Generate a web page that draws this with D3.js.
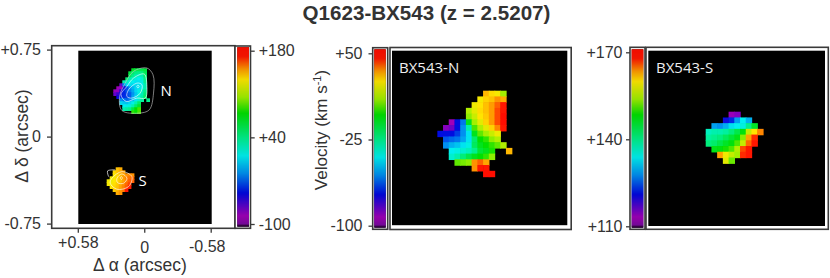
<!DOCTYPE html>
<html><head><meta charset="utf-8">
<script src="https://cdn.jsdelivr.net/npm/d3@7"></script>
<style>html,body{margin:0;padding:0;background:#fff}svg{display:block}text{font-family:"Liberation Sans",Arial,sans-serif;fill:#333}</style>
</head><body><div id="c"></div>
<script>
const _ = null;
const titleText = "Q1623-BX543 (z = 2.5207)";
// velocity ranges (km/s) and colour-bar tick labels
const leftRange = [-100, 180], northRange = [-100, 50], southRange = [110, 170];
const leftBarTicks = [180, 40, -100], northBarTicks = [50, -25, -100], southBarTicks = [170, 140, 110];
const raTicks = [0.58, 0, -0.58], decTicks = [0.75, 0, -0.75];
const northVelocity = [
[_,_,_,_,_,_,_,_,30,26,23,10,_],
[_,_,_,_,_,_,_,23,27,29,34,31,_],
[_,_,_,_,_,_,22,25,29,33,38,44,_],
[_,_,_,_,_,12,20,26,29,33,40,48,_],
[_,_,_,_,_,8,16,25,28,33,40,49,_],
[_,_,-91,-71,-58,-8,10,20,27,33,40,49,_],
[_,-88,-85,-72,-55,-30,2,12,20,27,35,46,_],
[-72,-72,-71,-65,-55,-42,-8,4,10,16,22,_,_],
[_,-62,-60,-58,-52,-42,-20,-4,0,8,12,_,_],
[_,-55,-50,-47,-42,-38,-18,-8,-4,0,4,12,_],
[_,_,-40,-38,-35,-32,-25,-12,-8,-2,_,_,30],
[_,_,-35,-30,-22,-15,-8,-4,0,8,_,_,_],
[_,_,_,4,6,8,34,38,32,_,_,_,_],
[_,_,_,_,_,_,34,48,48,_,_,_,_],
[_,_,_,_,_,_,_,_,50,50,_,_,_]];
const southVelocity = [
[_,_,_,_,114,115,_,_,_,_],
[_,_,_,121,123,129,134,130,_,_],
[_,129,128,130,133,134,135,140,146,_],
[137,138,138,139,141,144,148,156,160,164],
[139,140,141,143,145,147,153,163,167,_],
[141,142,144,146,148,151,156,165,168,_],
[_,147,148,149,151,155,166,168,_,_],
[_,_,163,159,156,154,167,168,_,_],
[_,_,_,158,152,_,_,_,_,_]];
const leftNorth = [
[_,_,_,_,_,_,70,62,58,58,62,_],
[_,_,_,_,_,62,50,42,40,42,55,_],
[_,_,_,_,_,55,40,30,25,30,48,_],
[_,_,_,_,50,32,25,18,12,22,42,_],
[_,_,_,30,25,18,12,8,8,15,38,_],
[_,_,-70,-20,5,8,5,5,8,12,30,_],
[_,-85,-83,-50,-30,-15,-5,5,8,15,30,_],
[-80,-80,-55,-40,-30,-20,-10,5,15,25,40,_],
[-70,-60,-46,-40,-35,-28,-15,0,15,28,45,_],
[_,-50,-40,-38,-35,-28,-10,5,20,32,50,_],
[_,_,-15,-20,-25,-20,-5,10,22,35,_,40],
[_,_,5,0,-2,5,15,30,50,_,_,_],
[_,_,_,12,15,18,30,50,65,_,_,_],
[_,_,_,30,35,40,60,80,90,_,_,_],
[_,_,_,_,_,_,85,80,90,_,_,_]];
const leftSouth = [
[_,_,_,140,145,_,_,_,_,_],
[_,_,135,140,145,148,_,_,_,_],
[_,_,132,136,142,146,150,152,150,_],
[_,130,130,136,142,148,152,155,156,_],
[128,128,132,136,140,146,152,158,158,_],
[130,130,134,138,144,150,156,162,_,_],
[_,132,136,140,146,152,158,168,_,_],
[_,_,138,142,148,154,170,_,_,_],
[_,_,_,145,150,_,_,_,_,_]];
// white flux contours, [dRA, dDec] arcsec
const contourNorth = [
 [[.093,.563],[-.023,.591],[-.076,.534],[-.081,.375],[-.044,.231],[.049,.202],[.195,.225],[.215,.346],[.166,.461]],
 [[.151,.433],[.093,.505],[0,.539],[-.023,.433],[-.009,.332],[.064,.332],[.157,.303],[.203,.361]],
 [[.137,.404],[.064,.461],[.02,.447],[.035,.375],[.108,.332],[.151,.346]],
 [[.055,.445],[.045,.43],[.055,.42],[.065,.43]]];
const contourSouth = [
 [[.282,-.359],[.195,-.302],[.108,-.345],[.137,-.431],[.238,-.454],[.297,-.402]],
 [[.238,-.359],[.195,-.322],[.151,-.359],[.18,-.402],[.233,-.397]],
 [[.21,-.355],[.2,-.345],[.19,-.355],[.2,-.37]]];
const contourOpen = [[.311,-.345],[.32,-.296],[.253,-.287]];

const svg = d3.select("#c").append("svg").attr("width",830).attr("height",278);
const defs=svg.append("defs");
[["soft",0.45],["softer",0.7]].forEach(([id,s])=>defs.append("filter").attr("id",id)
  .attr("x","-5%").attr("y","-5%").attr("width","110%").attr("height","110%")
  .append("feGaussianBlur").attr("stdDeviation",s));
const DARK="#3a3a3a";
const rainbow = d3.scaleLinear()
  .domain([0,.015,.06,.19,.3,.4,.5,.64,.73,.83,.89,.96,1])
  .range(["#000","#7a0aa0","#a000b8","#0008e0","#0090f0","#00f0f0","#00f08c","#00e000","#a0f000","#ffe800","#ff9800","#ff1800","#ff1000"])
  .clamp(true);
const colorFor = r => v => rainbow((v-r[0])/(r[1]-r[0]));

function cells(g, grid, x0, y0, size, range){
  const rows=grid.length, cols=grid[0].length;
  const col=d3.scaleBand().domain(d3.range(cols)).range([x0,x0+cols*size]);
  const row=d3.scaleBand().domain(d3.range(rows)).range([y0,y0+rows*size]);
  const c=colorFor(range);
  const pts=grid.flatMap((r,i)=>r.map((v,j)=>({i,j,v}))).filter(d=>d.v!==null);
  g.selectAll(null).data(pts).join("rect")
    .attr("x",d=>col(d.j)).attr("y",d=>row(d.i))
    .attr("width",size+.7).attr("height",size+.7)
    .attr("fill",d=>c(d.v));
}
function colorbar(x,w,yTop,yBottom,tickTop,tickBot,range,frameX,frameW,frameTop,frameBot){
  svg.append("rect").attr("x",frameX).attr("y",frameTop).attr("width",frameW).attr("height",frameBot-frameTop)
    .attr("fill","#fff").attr("stroke",DARK).attr("stroke-width",1.6);
  svg.append("rect").attr("x",x).attr("y",yTop).attr("width",w).attr("height",yBottom-yTop).attr("fill","#000");
  const y=d3.scaleLinear().domain([range[1],range[0]]).range([tickTop,tickBot]);
  const g=svg.append("g");
  const steps=d3.range(0,Math.round(yBottom-yTop));
  const pos=d3.scaleLinear().domain([0,steps.length]).range([1.01,0]);
  g.selectAll(null).data(steps).join("rect").attr("x",x).attr("width",w)
    .attr("y",d=>yTop+d).attr("height",1.5).attr("fill",d=>rainbow(pos(d)));
  return y;
}
function tickAxis(y,ticks,xPos,side,fmt,pad){
  const ax=(side==="left"?d3.axisLeft(y):d3.axisRight(y)).tickValues(ticks).tickSize(4).tickPadding(pad).tickFormat(fmt);
  const g=svg.append("g").attr("transform",`translate(${xPos},0)`).call(ax);
  g.select(".domain").remove();
  g.selectAll("line").attr("stroke",DARK).attr("stroke-width",1.3);
  g.selectAll("text").attr("font-size",16).attr("fill","#333");
  return g;
}
const sign=d=>(d>0?"+":"")+d;

svg.append("text").attr("x",426.5).attr("y",20).attr("text-anchor","middle")
  .attr("font-size",20.6).attr("font-weight","bold").text(titleText);

// ---- left panel
svg.append("rect").attr("x",51.7).attr("y",45.7).attr("width",183.3).attr("height",182.6)
  .attr("fill","#fff").attr("stroke",DARK).attr("stroke-width",1.6);
svg.append("rect").attr("x",78.3).attr("y",50.7).attr("width",133.4).attr("height",173.3).attr("fill","#000");
const xRA=d3.scaleLinear().domain([.58,-.58]).range([77.8,210.7]);
const yDec=d3.scaleLinear().domain([.75,-.75]).range([49.6,223.6]);
const mapL=svg.append("g").attr("filter","url(#softer)");
cells(mapL,leftNorth,113.3,68.3,3,leftRange);
cells(mapL,leftSouth,106.7,167.3,3,leftRange);
const line=d3.line().x(d=>xRA(d[0])).y(d=>yDec(d[1]));
[...contourNorth,...contourSouth].forEach((c,i)=>{
  svg.append("path").attr("d",line.curve(d3.curveCatmullRomClosed)(c)).attr("fill","none")
    .attr("stroke",i===0?"#c8c8c8":"#fff").attr("stroke-width",.7).attr("stroke-opacity",.9);
});
svg.append("path").attr("d",line.curve(d3.curveCatmullRom)(contourOpen)).attr("fill","none").attr("stroke","#fff").attr("stroke-width",.7);
svg.append("text").attr("x",160.5).attr("y",96).attr("font-size",15).style("font-family","'Open Sans'").style("fill","#fff").text("N");
svg.append("text").attr("x",138.5).attr("y",186).attr("font-size",15).style("font-family","'Open Sans'").style("fill","#fff").text("S");

const yL=colorbar(237.3,11.7,47.2,226.6,50.7,224,leftRange,235,15.5,46,228.3);
tickAxis(yL,leftBarTicks,250.7,"right",sign,4);
tickAxis(yDec,decTicks,51,"left",d=>d===0?"0":(d>0?"+":"")+d.toFixed(2),6);
const xAx=d3.axisBottom(xRA).tickValues(raTicks).tickSize(4).tickFormat(d=>d===0?"0":(d>0?"+":"")+d.toFixed(2));
const gx=svg.append("g").attr("transform","translate(0,228.8)").call(xAx);
gx.select(".domain").remove();
gx.selectAll("line").attr("stroke",DARK).attr("stroke-width",1.3);
gx.selectAll("text").attr("font-size",16).attr("fill","#333").attr("y",d=>d===0?13:d>0?8:12).attr("dy","0.71em").attr("dx",d=>d<0?-4:0);

svg.append("text").attr("x",140).attr("y",271).attr("text-anchor","middle").attr("font-size",17.5).text("Δ α (arcsec)");
svg.append("text").attr("transform","translate(28,136) rotate(-90)").attr("text-anchor","middle").attr("font-size",17.5).text("Δ δ (arcsec)");

// ---- north panel
const yN=colorbar(374.3,11.4,49.3,227.5,53.3,225.7,northRange,372.7,15,47.7,229.3);
tickAxis(yN,northBarTicks,372.5,"left",sign,6);
svg.append("rect").attr("x",390).attr("y",47.5).attr("width",181.2).attr("height",182).attr("fill","#fff").attr("stroke",DARK).attr("stroke-width",1.6);
svg.append("rect").attr("x",392).attr("y",50.7).attr("width",175.3).attr("height",174.5).attr("fill","#000");
const mapN=svg.append("g").attr("filter","url(#soft)");
cells(mapN,northVelocity,437.3,90.7,5.72,northRange);
svg.append("text").attr("x",399).attr("y",73).attr("font-size",15).style("font-family","'Open Sans'").style("fill","#eee").text("BX543-N");
const vel=svg.append("text").attr("transform","translate(327,130) rotate(-90)").attr("text-anchor","middle").attr("font-size",17);
vel.append("tspan").text("Velocity (km s");
vel.append("tspan").attr("font-size",11).attr("dy",-6).text("-1");
vel.append("tspan").attr("dy",6).text(")");

// ---- south panel
const yS=colorbar(631.7,11.6,49.3,227.7,52.3,226.3,southRange,630,15,47.3,229.3);
tickAxis(yS,southBarTicks,630,"left",sign,3.5);
svg.append("rect").attr("x",646).attr("y",47.3).attr("width",182.3).attr("height",182).attr("fill","#fff").attr("stroke",DARK).attr("stroke-width",1.6);
svg.append("rect").attr("x",648.3).attr("y",50.7).attr("width",176.7).attr("height",175.3).attr("fill","#000");
const mapS=svg.append("g").attr("filter","url(#soft)");
cells(mapS,southVelocity,705.7,111.7,5.72,southRange);
svg.append("text").attr("x",656).attr("y",73).attr("font-size",15).style("font-family","'Open Sans'").style("fill","#eee").text("BX543-S");
</script></body></html>
